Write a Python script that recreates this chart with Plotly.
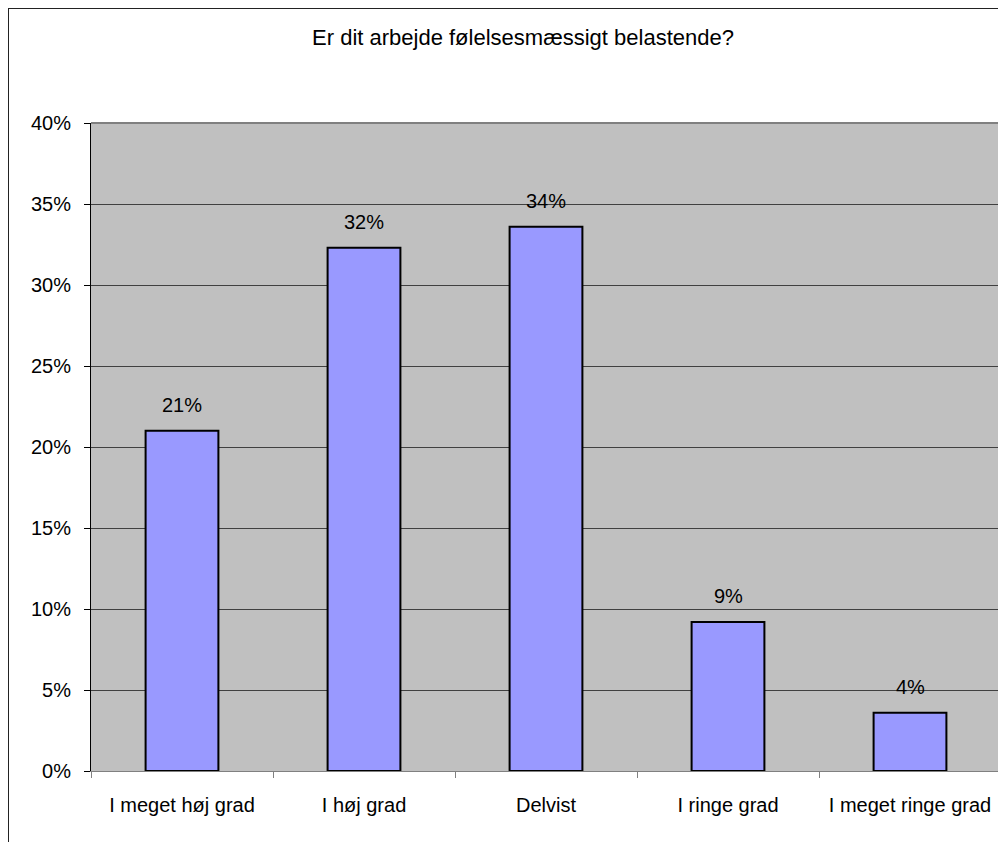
import plotly.graph_objects as go

categories = ["I meget høj grad", "I høj grad", "Delvist", "I ringe grad", "I meget ringe grad"]
values = [0.210, 0.323, 0.336, 0.092, 0.036]
labels = ["21%", "32%", "34%", "9%", "4%"]
title = "Er dit arbejde følelsesmæssigt belastende?"

FONT = "Liberation Sans, Arial, sans-serif"
# page has an 8px body margin, so the figure is drawn at (8, 8)
W, H = 998, 834
L, R, T, B = 83, 5, 115, 71
pw, ph = W - L - R, H - T - B

fig = go.Figure()
fig.add_trace(go.Bar(
    x=categories, y=values, width=0.4,
    marker=dict(color="#9999FF", line=dict(color="#000000", width=2)),
    hoverinfo="skip",
))

for c, v, t in zip(categories, values, labels):
    fig.add_annotation(x=c, y=v, text=t, showarrow=False, yanchor="bottom",
                       yshift=13, font=dict(family=FONT, size=20, color="#000000"))

# outer chart border (left and top visible, right/bottom off-page)
fig.add_shape(type="rect", xref="paper", yref="paper",
              x0=(0 - L) / pw, x1=(W + 30 - L) / pw,
              y0=(H - B - (H + 30)) / ph, y1=(H - B - 0) / ph,
              line=dict(color="#222222", width=2), layer="below")
# plot-area border (top and right gray)
fig.add_shape(type="line", xref="paper", yref="paper", x0=0, x1=1, y0=1, y1=1,
              line=dict(color="#808080", width=2))
fig.add_shape(type="line", xref="paper", yref="paper", x0=1, x1=1, y0=0, y1=1,
              line=dict(color="#808080", width=2))

fig.update_layout(
    width=W, height=H,
    margin=dict(l=L, r=R, t=T, b=B),
    paper_bgcolor="#FFFFFF", plot_bgcolor="#C0C0C0",
    showlegend=False,
    title=dict(text=title, x=515 / W, xanchor="center", y=1 - 29 / H, yanchor="middle",
               font=dict(family=FONT, size=22, color="#000000")),
    font=dict(family=FONT, size=20, color="#000000"),
    bargap=0.6,
)
fig.update_xaxes(
    showline=True, linecolor="#808080", linewidth=1,
    ticks="outside", tickson="boundaries", ticklen=6, tickcolor="#808080",
    ticklabelstandoff=16,
    tickfont=dict(family=FONT, size=20, color="#000000"),
    showgrid=False,
)
fig.update_yaxes(
    range=[0, 0.4], dtick=0.05, tickformat=".0%",
    showline=True, linecolor="#000000", linewidth=1,
    ticks="outside", ticklen=6, tickcolor="#000000",
    ticklabelstandoff=9,
    showgrid=True, gridcolor="#404040", gridwidth=1,
    zeroline=False,
    tickfont=dict(family=FONT, size=20, color="#000000"),
)

fig.write_html("out.html")
